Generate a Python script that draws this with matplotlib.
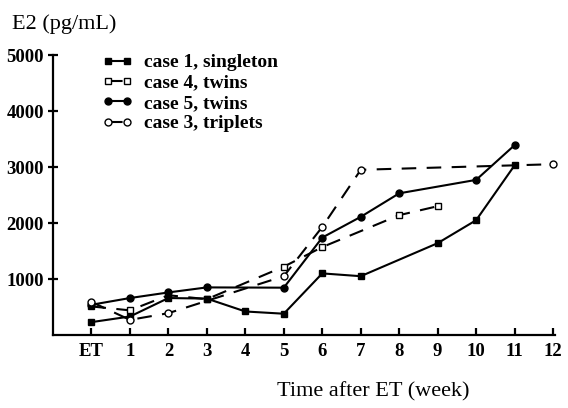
"""Serum E2 after embryo transfer, four cases (recreated chart)."""

import matplotlib

matplotlib.use("Agg")
import matplotlib.pyplot as plt

# week after ET (0 = ET) and E2 level in pg/mL
weeks_case1 = [0, 1, 2, 3, 4, 5, 6, 7, 9, 10, 11]
e2_case1 = [230, 330, 660, 650, 420, 380, 1100, 1050, 1640, 2050, 3030]

weeks_case4 = [0, 1, 2, 3, 5, 6, 8, 9]
e2_case4 = [510, 440, 710, 640, 1220, 1570, 2140, 2300]

weeks_case5 = [0, 1, 2, 3, 5, 6, 7, 8, 10, 11]
e2_case5 = [540, 660, 760, 850, 845, 1740, 2110, 2530, 2770, 3390]

weeks_case3 = [0, 1, 2, 5, 6, 7, 12]
e2_case3 = [590, 270, 390, 1050, 1930, 2950, 3050]

week_ticks = list(range(13))
week_labels = ["ET"] + [str(w) for w in range(1, 13)]
e2_ticks = [1000, 2000, 3000, 4000, 5000]

SERIF = "Liberation Serif"
DASH = (0, (7, 5))

fig = plt.figure(figsize=(5.68, 4.08), dpi=100)
ax = fig.add_axes([53 / 568, 73 / 408, 502 / 568, 280 / 408])

line_kw = dict(color="black", linewidth=1.5, markersize=5, clip_on=False)
ax.plot(weeks_case1, e2_case1, marker="s", markerfacecolor="black",
        label="case 1, singleton", zorder=4, **line_kw)
ax.plot(weeks_case4, e2_case4, marker="s", markerfacecolor="white",
        linestyle=DASH, label="case 4, twins", zorder=3, **line_kw)
ax.plot(weeks_case5, e2_case5, marker="o", markerfacecolor="black",
        label="case 5, twins", zorder=3, **line_kw)
ax.plot(weeks_case3, e2_case3, marker="o", markerfacecolor="white",
        linestyle=DASH, label="case 3, triplets", zorder=5, **line_kw)

ax.set_xlim(-1.0, 12.05)
ax.set_ylim(0, 5000)

for side in ("top", "right"):
    ax.spines[side].set_visible(False)
for side in ("left", "bottom"):
    ax.spines[side].set_linewidth(1.6)

ax.set_xticks(week_ticks)
ax.set_xticklabels(week_labels)
ax.set_yticks(e2_ticks)
ax.tick_params(axis="x", direction="in", length=5, width=1.6, pad=6)
ax.tick_params(axis="y", direction="inout", length=7, width=1.6, pad=3)
for lbl in ax.get_xticklabels() + ax.get_yticklabels():
    lbl.set_fontfamily(SERIF)
    lbl.set_fontweight("bold")
    lbl.set_fontsize(13.5)

leg = ax.legend(
    loc="upper left",
    bbox_to_anchor=(92 / 568, 1 - 44 / 408),
    bbox_transform=fig.transFigure,
    frameon=False,
    numpoints=2,
    handlelength=1.6,
    handletextpad=0.6,
    labelspacing=0.14,
    borderpad=0,
    prop={"family": SERIF, "weight": "bold", "size": 14},
)

fig.text(12 / 568, 1 - 24 / 408, "E2 (pg/mL)", family=SERIF, fontsize=16,
         va="center", ha="left")
fig.text(373 / 568, 1 - 392 / 408, "Time after ET (week)", family=SERIF,
         fontsize=16, va="center", ha="center")

fig.savefig("out.png", dpi=100)
